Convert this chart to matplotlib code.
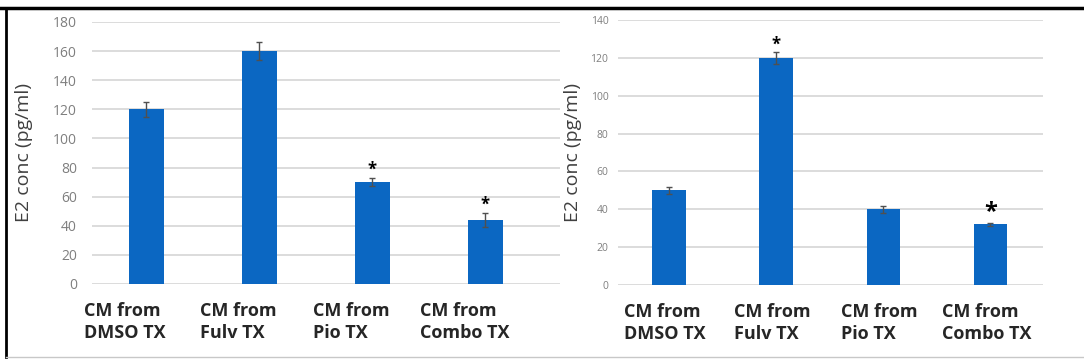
import numpy as np
import matplotlib
matplotlib.use('Agg')
import matplotlib.pyplot as plt
from matplotlib.lines import Line2D
from matplotlib.transforms import ScaledTranslation

# E2 concentration in conditioned media, two experiments
groups = ['CM from\nDMSO TX', 'CM from\nFulv TX', 'CM from\nPio TX', 'CM from\nCombo TX']

e2_left = [120, 160, 70, 44]
err_left = [5, 6, 3, 5]
sig_left = [False, False, True, True]

e2_right = [50, 120, 40, 32]
err_right = [2, 3, 2, 1]
sig_right = [False, True, False, True]

blue = '#0b67c2'
plt.rcParams['font.family'] = ['Open Sans', 'DejaVu Sans']

fig = plt.figure(figsize=(10.84, 3.62), dpi=100)

def panel(rect, vals, errs, sig, ymax, step, xlim, tick_size, tick_pad, lab_dx, star_sizes):
    ax = fig.add_axes(rect)
    x = np.arange(len(vals))
    ax.bar(x, vals, width=0.31, color=blue, zorder=2)
    ax.errorbar(x, vals, yerr=errs, fmt='none', ecolor='#505050', elinewidth=1,
                capsize=2.5, capthick=1, zorder=3)
    for i in range(len(vals)):
        if sig[i]:
            ax.annotate('*', (x[i], vals[i] + errs[i]), xytext=(0, -1),
                        textcoords='offset points', ha='center', va='bottom',
                        fontsize=star_sizes[i], fontweight='bold', color='black')
    ax.set_ylim(0, ymax)
    ax.set_xlim(*xlim)
    ax.set_yticks(np.arange(0, ymax + 1, step))
    ax.yaxis.grid(True, color='#d9d9d9', linewidth=1.3, zorder=0)
    ax.set_axisbelow(True)
    for s in ax.spines.values():
        s.set_visible(False)
    ax.tick_params(axis='y', length=0, labelsize=tick_size, labelcolor='#7f7f7f', pad=tick_pad)
    ax.tick_params(axis='x', length=0, pad=13)
    ax.set_xticks(x)
    ax.set_xticklabels(groups, fontsize=13, fontweight='bold', color='#262626',
                       linespacing=1.25, multialignment='left')
    off = ScaledTranslation(lab_dx / 72, 0, fig.dpi_scale_trans)
    for t in ax.get_xticklabels():
        t.set_transform(t.get_transform() + off)
    return ax

ax1 = panel([0.0849, 0.2155, 0.4317, 0.7238], e2_left, err_left, sig_left,
            180, 20, (-0.478, 3.66), 10, 11, -15, [0, 0, 12, 12])
ax1.set_ylabel('E2 conc (pg/ml)', fontsize=14, color='#404040')
ax1.yaxis.set_label_coords(-0.126, 0.5)

ax2 = panel([0.5701, 0.2127, 0.3921, 0.7320], e2_right, err_right, sig_right,
            140, 20, (-0.475, 3.49), 7.5, 7, -3, [0, 12, 0, 17])
ax2.set_ylabel('E2 conc (pg/ml)', fontsize=14, color='#404040')
ax2.yaxis.set_label_coords(-0.085, 0.5)

# frame around the figure
fig.add_artist(Line2D([0, 1], [0.978, 0.978], transform=fig.transFigure, color='black', lw=2.5))
fig.add_artist(Line2D([0.0055, 0.0055], [0.015, 0.978], transform=fig.transFigure, color='black', lw=2))
fig.add_artist(Line2D([0.0055, 1], [0.015, 0.015], transform=fig.transFigure, color='#c8c8c8', lw=1))

fig.savefig('out.png', dpi=100)
